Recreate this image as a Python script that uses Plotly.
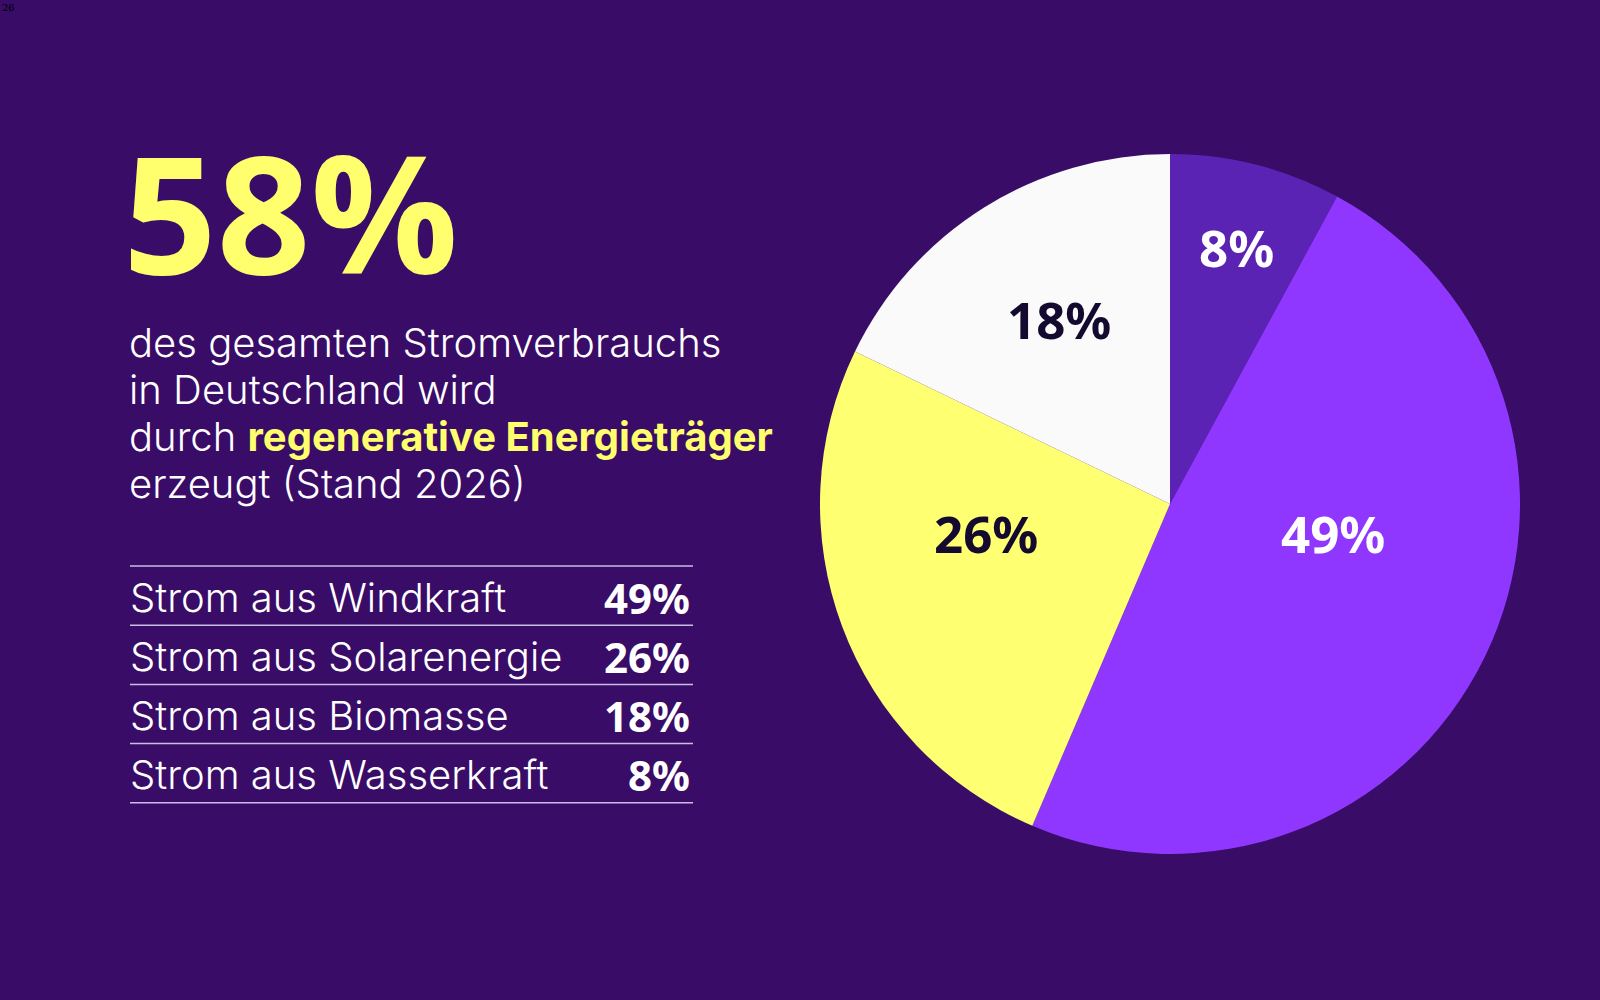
import plotly.graph_objects as go

# Werte aus der Grafik
categories = ["Strom aus Windkraft", "Strom aus Solarenergie", "Strom aus Biomasse", "Strom aus Wasserkraft"]
shares = [49, 26, 18, 8]
share_labels = ["49%", "26%", "18%", "8%"]
pie_order = [3, 0, 1, 2]  # im Uhrzeigersinn ab 12 Uhr: Wasser, Wind, Solar, Biomasse
headline = "58%"
body_lines = [
    "des gesamten Stromverbrauchs",
    "in Deutschland wird",
    "durch <b><span style='color:#ffff6e'>regenerative Energieträger</span></b>",
    "erzeugt (Stand 2026)",
]
page_number = "26"

BG = "#380c67"
YELLOW = "#ffff6e"
DARK = "#140a30"
slice_colors = {
    "Strom aus Windkraft": "#8f37fe",
    "Strom aus Solarenergie": "#ffff72",
    "Strom aus Biomasse": "#fafafa",
    "Strom aus Wasserkraft": "#5b23b3",
}
label_colors = {
    "Strom aus Windkraft": "white",
    "Strom aus Solarenergie": DARK,
    "Strom aus Biomasse": DARK,
    "Strom aus Wasserkraft": "white",
}
# Platzierung der Prozentwerte im Kreis (Pixel), wie in der Vorlage gesetzt
label_pos = {
    "Strom aus Windkraft": (1333, 533),
    "Strom aus Solarenergie": (986, 533),
    "Strom aus Biomasse": (1059, 319),
    "Strom aus Wasserkraft": (1236, 247),
}

W, H = 1600, 1000


def px(x):
    return x / W


def py(y):
    return 1 - y / H


pie_labels = [categories[i] for i in pie_order]
pie_values = [shares[i] for i in pie_order]
pie_text = [share_labels[i] for i in pie_order]

fig = go.Figure(
    go.Pie(
        labels=pie_labels,
        values=pie_values,
        text=pie_text,
        textinfo="none",
        sort=False,
        direction="clockwise",
        rotation=0,
        marker=dict(colors=[slice_colors[c] for c in pie_labels], line=dict(width=0)),
        hovertemplate="%{label}: %{text}<extra></extra>",
        showlegend=False,
        domain=dict(x=[px(820), px(1520)], y=[py(854), py(154)]),
    )
)

annotations = [
    dict(x=0, y=1, xanchor="left", yanchor="top", text=page_number, showarrow=False,
         font=dict(family="DejaVu Serif", size=10, color="black")),
    dict(x=px(121), y=py(211), xanchor="left", yanchor="middle", text=headline, showarrow=False,
         font=dict(family="Open Sans", size=164, color=YELLOW, weight="bold")),
]

for cat, lab in zip(pie_labels, pie_text):
    x, y = label_pos[cat]
    annotations.append(dict(
        x=px(x), y=py(y), xanchor="center", yanchor="middle", text=lab, showarrow=False,
        font=dict(family="Noto Sans", size=51, color=label_colors[cat], weight="bold"),
    ))

for i, line in enumerate(body_lines):
    annotations.append(dict(
        x=px(127), y=py(342 + i * 47.3), xanchor="left", yanchor="middle",
        text=line, showarrow=False,
        font=dict(family="Inter", size=40, color="white", weight=300),
    ))

shapes = []
row_top = 566
row_h = 59.2
for i, (cat, lab) in enumerate(zip(categories, share_labels)):
    annotations.append(dict(
        x=px(128), y=py(row_top + i * row_h + 31), xanchor="left", yanchor="middle",
        text=cat, showarrow=False,
        font=dict(family="Inter", size=40, color="white", weight=300),
    ))
    annotations.append(dict(
        x=px(692), y=py(row_top + i * row_h + 31), xanchor="right", yanchor="middle",
        text=lab, showarrow=False,
        font=dict(family="Noto Sans", size=42, color="white", weight="bold"),
    ))

for i in range(len(categories) + 1):
    y = py(row_top + i * row_h)
    shapes.append(dict(type="line", xref="paper", yref="paper", x0=px(130), x1=px(693), y0=y, y1=y,
                       line=dict(color="#c9bde6", width=1.5)))

fig.update_layout(
    width=W,
    height=H,
    paper_bgcolor=BG,
    plot_bgcolor=BG,
    margin=dict(l=0, r=0, t=0, b=0),
    annotations=annotations,
    shapes=shapes,
)

fig.write_html("out.html", config={"displayModeBar": False},
               post_script="document.body.style.margin='0px';")
